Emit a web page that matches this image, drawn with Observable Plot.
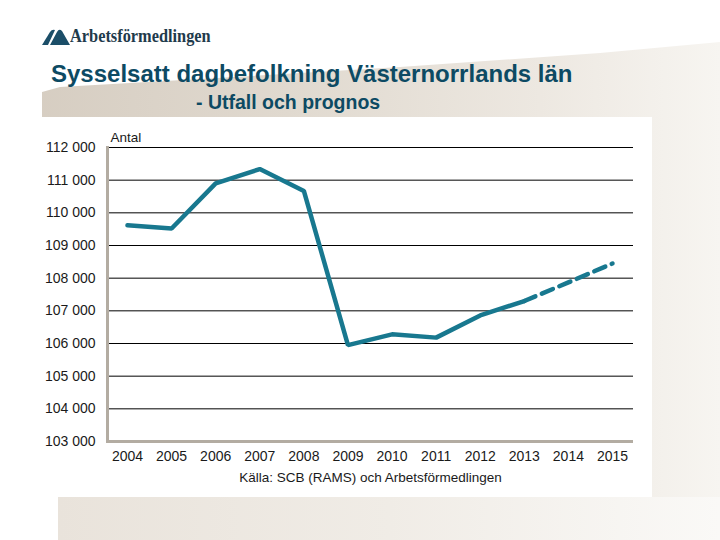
<!DOCTYPE html>
<html>
<head>
<meta charset="utf-8">
<script src="https://cdn.jsdelivr.net/npm/d3@7"></script>
<script src="https://cdn.jsdelivr.net/npm/@observablehq/plot@0.6"></script>
<style>
  html, body { margin: 0; padding: 0; }
  body { width: 720px; height: 540px; position: relative; overflow: hidden; background: #ffffff; font-family: "Liberation Sans", Arial, sans-serif; }
  #band { position: absolute; left: 0; top: 0; width: 720px; height: 540px;
    background: linear-gradient(to right, #d5ccc0 0%, #e0d9cf 40%, #ede8e1 75%, #f7f5f1 100%);
    clip-path: polygon(42px 92px, 60px 87px, 200px 79px, 400px 67px, 600px 53px, 720px 42px, 720px 497px, 42px 497px); }
  #bottom { position: absolute; left: 58px; top: 497px; width: 662px; height: 43px;
    background: linear-gradient(to right, #e9e3db 0%, #f0ece6 50%, #faf9f7 100%); }
  #logo { position: absolute; left: 42px; top: 26px; height: 22px; }
  #logotext { position: absolute; left: 70px; top: 25px; font-family: "Liberation Serif", "Times New Roman", serif; font-weight: bold; font-size: 19px; color: #1f3b4c; transform-origin: 0 0; transform: scaleX(0.86); white-space: nowrap; }
  #title { position: absolute; left: 51px; top: 62px; margin: 0; font-size: 24px; line-height: 24px; font-weight: bold; color: #0d4a63; white-space: nowrap; }
  #subtitle { position: absolute; left: 196px; top: 92px; margin: 0; font-size: 19.5px; line-height: 20px; font-weight: bold; color: #0d4a63; white-space: nowrap; }
  #chart { position: absolute; left: 42px; top: 117px; width: 610px; height: 380px; background: #ffffff; }
</style>
</head>
<body>
<div id="band"></div>
<div id="bottom"></div>
<svg id="logo" width="28" height="22" viewBox="0 0 28 22">
  <path d="M0 19 L8 6 Q10 3 13 4 L6 19 Z" fill="#1b4e68"/>
  <path d="M8 19 L15 6 Q17 2 20 5 L28 19 Z" fill="#1b4e68"/>
</svg>
<div id="logotext">Arbetsförmedlingen</div>
<h1 id="title">Sysselsatt dagbefolkning Västernorrlands län</h1>
<h2 id="subtitle">- Utfall och prognos</h2>
<div id="chart"></div>
<script>
// Data
const years = [2004, 2005, 2006, 2007, 2008, 2009, 2010, 2011, 2012, 2013, 2014, 2015];
const outcomeYears = [2004, 2005, 2006, 2007, 2008, 2009, 2010, 2011, 2012, 2013];
const outcomeValues = [109620, 109520, 110900, 111340, 110670, 105950, 106280, 106180, 106860, 107300];
const forecastYears = [2013, 2014, 2015];
const forecastValues = [107300, 107870, 108450];
const yTicks = [103000, 104000, 105000, 106000, 107000, 108000, 109000, 110000, 111000, 112000];
const yLabel = "Antal";
const source = "Källa: SCB (RAMS) och Arbetsförmedlingen";

const outcome = outcomeYears.map((x, i) => ({x, y: outcomeValues[i]}));
const forecast = forecastYears.map((x, i) => ({x, y: forecastValues[i]}));
const fmt = d => d3.format(",")(d).replace(/,/g, " ");

const lineColor = "#18788f";
const axisColor = "#b3aca2";

const chart = Plot.plot({
  width: 610,
  height: 380,
  marginLeft: 65,
  marginRight: 19,
  marginTop: 30,
  marginBottom: 56,
  style: {fontFamily: "'Liberation Sans', Arial, sans-serif", fontSize: "14px", color: "#1a1a1a", background: "transparent"},
  x: {type: "linear", domain: [2004, 2015], insetLeft: 20, insetRight: 21},
  y: {domain: [103000, 112000]},
  marks: [
    Plot.ruleY(yTicks.slice(1), {stroke: "#000", strokeWidth: 1}),
    Plot.ruleY([yTicks[0]], {stroke: axisColor, strokeWidth: 3}),
    Plot.frame({anchor: "left", stroke: axisColor, strokeWidth: 3}),
    Plot.axisY({ticks: yTicks, tickSize: 0, tickPadding: 12, tickFormat: fmt, label: null, fill: "#1a1a1a", fontSize: 14}),
    Plot.axisX({ticks: years, tickSize: 0, tickPadding: 10, tickFormat: d => String(d), label: null, fill: "#1a1a1a", fontSize: 14}),
    Plot.line(outcome, {x: "x", y: "y", stroke: lineColor, strokeWidth: 4.5, strokeLinejoin: "miter"}),
    Plot.line(forecast, {x: "x", y: "y", stroke: lineColor, strokeWidth: 4.5, strokeDasharray: "12,7"}),
    Plot.text([yLabel], {frameAnchor: "top-left", dx: 3, dy: -15, textAnchor: "start", fontSize: 13.5, fill: "#1a1a1a"}),
    Plot.text([source], {frameAnchor: "bottom", dy: 40, fontSize: 13.5, fill: "#1a1a1a"})
  ]
});
document.getElementById("chart").appendChild(chart);
</script>
</body>
</html>
